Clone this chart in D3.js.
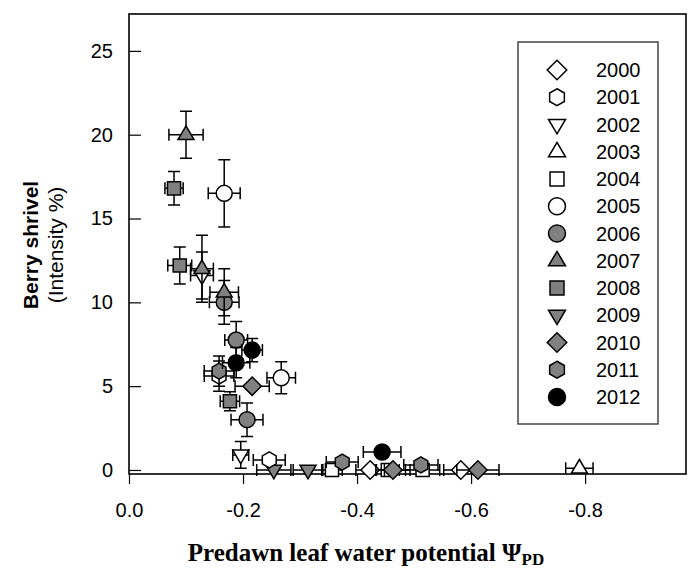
<!DOCTYPE html>
<html>
<head>
<meta charset="utf-8">
<script src="https://cdn.jsdelivr.net/npm/d3@7"></script>
<style>
  body { margin: 0; background: #fff; }
  text { font-family: "Liberation Sans", Arial, sans-serif; fill: #000; }
  text.serif { font-family: "Liberation Serif", "Times New Roman", serif; }
</style>
</head>
<body>
<svg id="chart" width="690" height="569"></svg>
<script>
// years in legend order
const years = [2000, 2001, 2002, 2003, 2004, 2005, 2006, 2007, 2008, 2009, 2010, 2011, 2012];
const shapes = ["diamond", "hexagon", "down", "up", "square", "circle", "circle", "up", "square", "down", "diamond", "hexagon", "circle"];
const fills = ["#fff", "#fff", "#fff", "#fff", "#fff", "#fff", "#808080", "#808080", "#808080", "#808080", "#808080", "#808080", "#000"];

// points: year, psi (MPa), shrivel %, x error, y error
const pointYear = [2004, 2004, 2004, 2000, 2000, 2003, 2009, 2009, 2010, 2010, 2011, 2011,
    2001, 2001, 2002, 2002, 2005, 2005, 2006, 2006, 2006, 2007, 2007, 2007,
    2008, 2008, 2008, 2010, 2011, 2012, 2012, 2012];
const pointX = [-0.356, -0.454, -0.515, -0.423, -0.582, -0.79, -0.254, -0.314, -0.463, -0.612, -0.374, -0.512,
    -0.158, -0.246, -0.128, -0.196, -0.167, -0.267, -0.167, -0.188, -0.207, -0.100, -0.128, -0.167,
    -0.079, -0.089, -0.177, -0.216, -0.158, -0.216, -0.188, -0.444];
const pointY = [0, 0, 0, 0, 0, 0.1, 0, 0, 0, 0, 0.47, 0.3,
    5.6, 0.6, 11.6, 0.9, 16.5, 5.5, 10.0, 7.75, 3.0, 20.0, 12.0, 10.6,
    16.8, 12.2, 4.1, 5.0, 5.9, 7.15, 6.4, 1.07];
const pointXErr = [0.018, 0.02, 0.03, 0.025, 0.03, 0.024, 0.03, 0.026, 0.03, 0.037, 0.028, 0.03,
    0.026, 0.028, 0.02, 0.014, 0.028, 0.025, 0.026, 0.02, 0.028, 0.03, 0.02, 0.025,
    0.016, 0.021, 0.017, 0.03, 0.026, 0.018, 0.024, 0.033];
const pointYErr = [0, 0, 0, 0, 0, 0, 0, 0, 0, 0, 0, 0,
    0.9, 0, 1.4, 0.8, 2.0, 0.95, 1.3, 1.1, 1.0, 1.4, 2.0, 1.4,
    1.0, 1.1, 0.56, 0, 0.9, 0.7, 0.9, 0];

const xTicks = [0, -0.2, -0.4, -0.6, -0.8];
const xTickLabels = ["0.0", "-0.2", "-0.4", "-0.6", "-0.8"];
const yTicks = [0, 5, 10, 15, 20, 25];

const svg = d3.select("#chart");
const plotLeft = 129, plotRight = 686, plotTop = 14, plotBottom = 474;

const x = d3.scaleLinear().domain([0, -0.977]).range([plotLeft, plotRight]);
const y = d3.scaleLinear().domain([-0.24, 27.2]).range([plotBottom, plotTop]);

function symbolPath(shape, s) {
    if (shape === "circle") {
        return `M${s},0A${s},${s} 0 1,1 ${-s},0A${s},${s} 0 1,1 ${s},0Z`;
    }
    if (shape === "square") {
        const h = s * 0.82;
        return `M${-h},${-h}H${h}V${h}H${-h}Z`;
    }
    if (shape === "diamond") {
        const h = s * 1.15;
        return `M0,${-h}L${h},0L0,${h}L${-h},0Z`;
    }
    if (shape === "up") {
        return `M0,${-s * 1.1}L${s},${s * 0.6}L${-s},${s * 0.6}Z`;
    }
    if (shape === "down") {
        return `M0,${s * 1.1}L${s},${-s * 0.6}L${-s},${-s * 0.6}Z`;
    }
    // pointy-top hexagon
    const pts = d3.range(6).map(i => {
        const a = (-90 + i * 60) * Math.PI / 180;
        return [s * Math.cos(a), s * Math.sin(a)];
    });
    return "M" + pts.map(p => p.join(",")).join("L") + "Z";
}

// frame
svg.append("rect")
    .attr("x", plotLeft).attr("y", plotTop)
    .attr("width", plotRight - plotLeft).attr("height", plotBottom - plotTop)
    .attr("fill", "none").attr("stroke", "#000").attr("stroke-width", 1.6);

// axes
const xAxis = d3.axisBottom(x).tickValues(xTicks)
    .tickFormat((d, i) => xTickLabels[i]).tickSizeInner(10).tickSizeOuter(0).tickPadding(19);
svg.append("g")
    .attr("transform", `translate(0,${plotBottom})`)
    .call(xAxis)
    .call(g => g.select(".domain").remove())
    .call(g => g.selectAll("line").attr("stroke-width", 1.2))
    .call(g => g.selectAll("text").attr("font-size", 20));

const yAxis = d3.axisLeft(y).tickValues(yTicks)
    .tickSizeInner(-12).tickSizeOuter(0).tickPadding(16);
svg.append("g")
    .attr("transform", `translate(${plotLeft},0)`)
    .call(yAxis)
    .call(g => g.select(".domain").remove())
    .call(g => g.selectAll("line").attr("stroke-width", 1.2))
    .call(g => g.selectAll("text").attr("font-size", 20));

// points with error bars
const points = pointYear.map((yr, i) => ({
    year: yr, px: pointX[i], py: pointY[i], ex: pointXErr[i], ey: pointYErr[i]
}));

const cap = 6;
const pg = svg.append("g").selectAll("g")
    .data(points)
    .join("g");

pg.each(function (d) {
    const g = d3.select(this);
    const cx = x(d.px), cy = y(d.py);
    if (d.ex > 0) {
        const x1 = x(d.px - d.ex), x2 = x(d.px + d.ex);
        g.append("path")
            .attr("d", `M${x1},${cy}H${x2}M${x1},${cy - cap}V${cy + cap}M${x2},${cy - cap}V${cy + cap}`)
            .attr("stroke", "#000").attr("stroke-width", 1.5).attr("fill", "none");
    }
    if (d.ey > 0) {
        const y1 = y(d.py - d.ey), y2 = y(d.py + d.ey);
        g.append("path")
            .attr("d", `M${cx},${y1}V${y2}M${cx - cap},${y1}H${cx + cap}M${cx - cap},${y2}H${cx + cap}`)
            .attr("stroke", "#000").attr("stroke-width", 1.5).attr("fill", "none");
    }
    const k = years.indexOf(d.year);
    g.append("path")
        .attr("transform", `translate(${cx},${cy})`)
        .attr("d", symbolPath(shapes[k], 8))
        .attr("fill", fills[k])
        .attr("stroke", "#000").attr("stroke-width", 1.5);
});

// legend
svg.append("rect")
    .attr("x", 518).attr("y", 42).attr("width", 140).attr("height", 382)
    .attr("fill", "#fff").attr("stroke", "#444").attr("stroke-width", 1.5);

const lg = svg.append("g").selectAll("g")
    .data(years)
    .join("g")
    .attr("transform", (d, i) => `translate(557,${70 + i * 27.25})`);

lg.append("path")
    .attr("d", (d, i) => symbolPath(shapes[i], 8.5))
    .attr("fill", (d, i) => fills[i])
    .attr("stroke", "#000").attr("stroke-width", 1.5);

lg.append("text")
    .attr("x", 39).attr("y", 7)
    .attr("font-size", 20)
    .text(d => d);

// axis titles
const yt = svg.append("text")
    .attr("transform", `translate(38,245) rotate(-90)`)
    .attr("text-anchor", "middle")
    .attr("font-size", 21);
yt.append("tspan").attr("x", 0).attr("dy", 0).attr("font-weight", "bold").text("Berry shrivel");
yt.append("tspan").attr("x", 0).attr("dy", 25).text("(Intensity %)");

const xt = svg.append("text")
    .attr("class", "serif")
    .attr("x", 366).attr("y", 561)
    .attr("text-anchor", "middle")
    .attr("font-weight", "bold")
    .attr("font-size", 25);
xt.append("tspan").text("Predawn leaf water potential Ψ");
xt.append("tspan").attr("dy", 4).attr("font-size", 17).text("PD");
</script>
</body>
</html>
